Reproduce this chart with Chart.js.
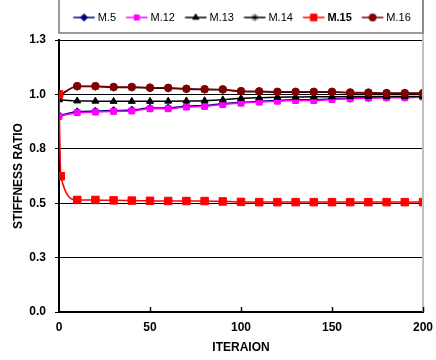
<!DOCTYPE html>
<html>
<head>
<meta charset="utf-8">
<script src="https://cdn.jsdelivr.net/npm/chart.js@4.4.0/dist/chart.umd.min.js"></script>
<style>
  html, body { margin: 0; padding: 0; background: #fff; }
  #wrap { width: 436px; height: 360px; position: relative; }
</style>
</head>
<body>
<div id="wrap"><canvas id="rigidez"></canvas></div>
<script>
// valores
var nomes = ['M.5', 'M.12', 'M.13', 'M.14', 'M.15', 'M.16'];
var iteracoes = [0, 10, 20, 30, 40, 50, 60, 70, 80, 90, 100, 110, 120, 130, 140, 150, 160, 170, 180, 190, 200];
var iteracoesM15 = [0, 1, 10, 20, 30, 40, 50, 60, 70, 80, 90, 100, 110, 120, 130, 140, 150, 160, 170, 180, 190, 200];

var m5  = [0.903, 0.920, 0.923, 0.926, 0.928, 0.937, 0.938, 0.946, 0.949, 0.957, 0.964, 0.968, 0.972, 0.975, 0.975, 0.979, 0.982, 0.985, 0.987, 0.987, 0.989];
var m12 = [0.899, 0.916, 0.919, 0.922, 0.924, 0.934, 0.934, 0.942, 0.945, 0.953, 0.960, 0.965, 0.969, 0.972, 0.972, 0.976, 0.980, 0.983, 0.985, 0.985, 0.988];
var m13 = [0.975, 0.970, 0.969, 0.968, 0.968, 0.968, 0.969, 0.970, 0.971, 0.975, 0.982, 0.985, 0.987, 0.988, 0.989, 0.989, 0.990, 0.990, 0.990, 0.990, 0.990];
var m14 = [0.993, 1.036, 1.036, 1.032, 1.032, 1.029, 1.028, 1.024, 1.022, 1.021, 1.013, 1.012, 1.010, 1.010, 1.010, 1.010, 1.007, 1.006, 1.004, 1.004, 1.004];
var m15 = [1.000, 0.624, 0.515, 0.515, 0.513, 0.512, 0.511, 0.510, 0.510, 0.510, 0.508, 0.506, 0.505, 0.505, 0.505, 0.505, 0.505, 0.505, 0.505, 0.505, 0.505, 0.505];
var m16 = [0.995, 1.038, 1.038, 1.034, 1.034, 1.031, 1.030, 1.026, 1.024, 1.023, 1.015, 1.014, 1.012, 1.012, 1.012, 1.012, 1.009, 1.008, 1.006, 1.006, 1.006];

var ticksX = [0, 50, 100, 150, 200];
var ticksY = [0, 0.25, 0.5, 0.75, 1.0, 1.25];

var cores = ['#000080', '#FF00FF', '#000000', '#000000', '#FF0000', '#800000'];
var marcadores = ['rectRot', 'rect', 'triangle', 'star', 'rect', 'circle'];
var raios = [4, 4.2, 4, 4, 5.3, 3.8];
var ordem = [6, 5, 4, 3, 1, 2];

var caixaLeg = 21;   // largura reservada para o icone na legenda

Chart.defaults.font.family = "'Liberation Sans', Arial, sans-serif";
Chart.defaults.color = '#000';

function pontos(xs, ys) {
  return xs.map(function (x, i) { return { x: x, y: ys[i] }; });
}

// icone linha-marcador-linha; a linha termina 2px antes do texto
function iconeLegenda(cor, estilo, raio) {
  var c = document.createElement('canvas');
  c.width = 30; c.height = 12;
  var g = c.getContext('2d');
  g.strokeStyle = cor; g.fillStyle = cor; g.lineWidth = 1.5;
  g.beginPath(); g.moveTo(6.5, 6); g.lineTo(28, 6); g.stroke();
  g.lineWidth = 1;
  Chart.helpers.drawPoint(g, { pointStyle: estilo, radius: raio, borderWidth: 1, rotation: 0 }, 17.25, 6);
  return c;
}

var series = [m5, m12, m13, m14, m15, m16];
var datasets = series.map(function (ys, i) {
  var xs = (i === 4) ? iteracoesM15 : iteracoes;
  return {
    label: nomes[i],
    data: pontos(xs, ys),
    borderColor: cores[i],
    backgroundColor: cores[i],
    borderWidth: 1.5,
    pointStyle: marcadores[i],
    pointRadius: raios[i],
    pointBorderWidth: 1,
    cubicInterpolationMode: 'monotone',
    order: ordem[i]
  };
});

// legenda um pouco mais alta, com espaco vazio embaixo
var folgaLegenda = {
  id: 'folgaLegenda',
  beforeUpdate: function (chart) {
    var lg = chart.legend;
    if (lg && !lg._folga) {
      var fit = lg.fit;
      lg.fit = function () { fit.call(this); this.height += 7; };
      lg._folga = true;
    }
  }
};

var molduras = {
  id: 'molduras',
  afterDraw: function (chart) {
    var ctx = chart.ctx, a = chart.chartArea, lg = chart.legend;
    ctx.save();
    // borda direita cinza
    ctx.strokeStyle = '#c0c0c0'; ctx.lineWidth = 2;
    ctx.beginPath(); ctx.moveTo(a.right, 0); ctx.lineTo(a.right, a.bottom); ctx.stroke();
    // caixa da legenda
    ctx.strokeStyle = '#7a7a7a'; ctx.lineWidth = 1.5;
    ctx.strokeRect(a.left, -1, a.right - a.left, lg.bottom - 7 + 1);
    // marcas do eixo x para dentro
    var sx = chart.scales.x;
    ctx.strokeStyle = '#000'; ctx.lineWidth = 1.5;
    ticksX.forEach(function (v) {
      if (v === 0) return;
      var px = Math.round(sx.getPixelForValue(v)) + 0.5;
      ctx.beginPath(); ctx.moveTo(px, a.bottom); ctx.lineTo(px, a.bottom - 5); ctx.stroke();
    });
    // M.15 em negrito na legenda
    var hb = lg.legendHitBoxes[4];
    if (hb) {
      ctx.font = "bold 11px 'Liberation Sans', Arial, sans-serif";
      ctx.fillStyle = '#000'; ctx.textBaseline = 'middle'; ctx.textAlign = 'left';
      ctx.fillText(nomes[4], hb.left + caixaLeg + 5.5, hb.top + 5.5);
    }
    ctx.restore();
  }
};

var ctx = document.getElementById('rigidez').getContext('2d');
window.grafico = new Chart(ctx, {
  type: 'line',
  data: { datasets: datasets },
  options: {
    responsive: true,
    maintainAspectRatio: false,
    animation: false,
    layout: { padding: { top: 4, right: 0, bottom: 0, left: 0 } },
    plugins: {
      tooltip: { enabled: false },
      legend: {
        position: 'top',
        fullSize: false,
        labels: {
          usePointStyle: true,
          pointStyleWidth: caixaLeg,
          padding: 8,
          font: { size: 11 },
          generateLabels: function (chart) {
            return chart.data.datasets.map(function (ds, i) {
              return {
                text: ds.label,
                fillStyle: cores[i],
                strokeStyle: cores[i],
                lineWidth: 0,
                pointStyle: iconeLegenda(cores[i], marcadores[i], i === 4 ? 4.6 : 3.6),
                fontColor: i === 4 ? 'rgba(0,0,0,0)' : '#000',
                hidden: false,
                datasetIndex: i
              };
            });
          }
        }
      }
    },
    scales: {
      x: {
        type: 'linear',
        min: 0,
        max: 200,
        afterBuildTicks: function (s) { s.ticks = ticksX.map(function (v) { return { value: v }; }); },
        afterFit: function (s) { s.height = 48; s.paddingRight = 13; },
        grid: { display: false, drawTicks: false },
        border: { display: true, color: '#000', width: 2 },
        ticks: { padding: 8, maxRotation: 0, font: { size: 12, weight: 'bold' } },
        title: {
          display: true,
          text: 'ITERAION',
          padding: { top: 0, bottom: 5 },
          font: { family: "'Liberation Sans Narrow', 'Liberation Sans', sans-serif", size: 12, weight: 'bold' }
        }
      },
      y: {
        min: 0,
        max: 1.25,
        afterBuildTicks: function (s) { s.ticks = ticksY.map(function (v) { return { value: v }; }); },
        afterFit: function (s) { s.width = 59; },
        grid: { color: '#000', lineWidth: 1, tickLength: 4 },
        border: { display: true, color: '#000', width: 2 },
        ticks: {
          padding: 9,
          font: { size: 12, weight: 'bold' },
          callback: function (v) { return Number(v).toFixed(1); }
        },
        title: {
          display: true,
          text: 'STIFFNESS RATIO',
          padding: { top: 11, bottom: 0 },
          font: { size: 12, weight: 'bold' }
        }
      }
    }
  },
  plugins: [folgaLegenda, molduras]
});
</script>
</body>
</html>
